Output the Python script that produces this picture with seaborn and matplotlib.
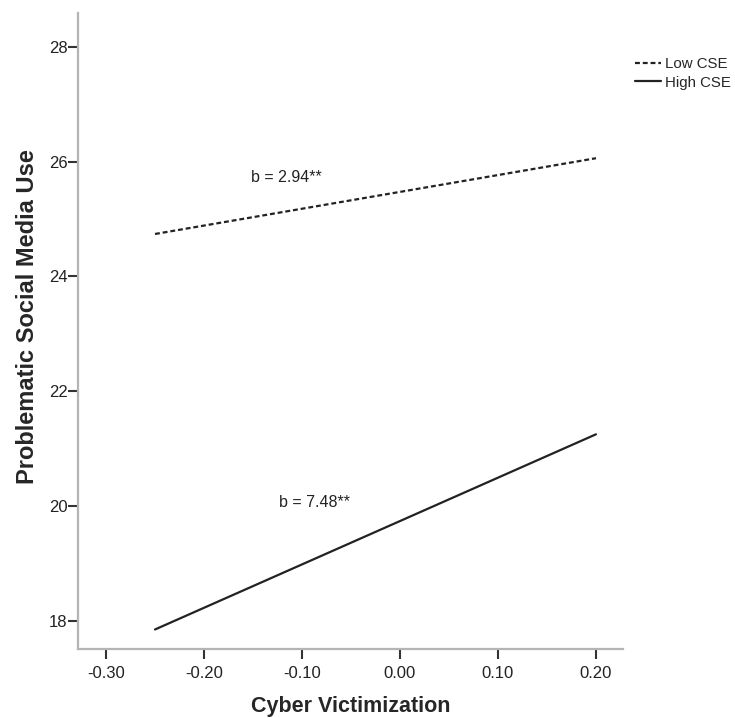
import matplotlib
matplotlib.use("Agg")
import matplotlib.pyplot as plt
import seaborn as sns
import pandas as pd

# Data
groups = ["Low CSE", "Low CSE", "High CSE", "High CSE"]
cyber_vict = [-0.25, 0.20, -0.25, 0.20]
psmu = [24.74, 26.06, 17.85, 21.25]
slope_labels = ["b = 2.94**", "b = 7.48**"]
label_x = [-0.116, -0.087]
label_y = [25.72, 20.06]
xticks = [-0.30, -0.20, -0.10, 0.00, 0.10, 0.20]
xtick_labels = ["-0.30", "-0.20", "-0.10", "0.00", "0.10", "0.20"]
yticks = [18, 20, 22, 24, 26, 28]

sns.set_style("white")
plt.rcParams["font.family"] = ["Liberation Sans", "DejaVu Sans"]

df = pd.DataFrame({"Group": groups, "Cyber Victimization": cyber_vict,
                   "Problematic Social Media Use": psmu})

fig = plt.figure(figsize=(7.35, 7.18), dpi=100)
ax = fig.add_axes([0.1061, 0.0961, 0.8476 - 0.1061, 0.9819 - 0.0961])

sns.lineplot(data=df, x="Cyber Victimization", y="Problematic Social Media Use",
             hue="Group", style="Group",
             palette={"Low CSE": "#222222", "High CSE": "#222222"},
             dashes={"Low CSE": (2.2, 1.3), "High CSE": ""},
             linewidth=1.6, ax=ax, legend=True)

ax.set_xlim(-0.3286, 0.2276)
ax.set_ylim(17.51, 28.59)
ax.set_xticks(xticks)
ax.set_xticklabels(xtick_labels)
ax.set_yticks(yticks)
ax.set_yticklabels([str(v) for v in yticks])

for t, xx, yy in zip(slope_labels, label_x, label_y):
    ax.text(xx, yy, t, ha="center", va="center", fontsize=11.5, color="#222222")

for s in ["top", "right"]:
    ax.spines[s].set_visible(False)
for s in ["left", "bottom"]:
    ax.spines[s].set_color("#b4b4b4")
    ax.spines[s].set_linewidth(1.6)

ax.tick_params(axis="x", which="major", direction="out", length=7, width=1.5,
               color="#333333", labelsize=12, labelcolor="#222222", pad=5, bottom=True)
ax.tick_params(axis="y", which="major", direction="out", length=7, width=1.5,
               color="#333333", labelsize=12, labelcolor="#222222", pad=0.5, left=True)

ax.set_xlabel("Cyber Victimization", fontsize=15.5, fontweight="bold", labelpad=11)
ax.set_ylabel("Problematic Social Media Use", fontsize=17, fontweight="bold", labelpad=9)
ax.yaxis.set_label_coords(-0.072, 0.522)

leg = ax.get_legend()
handles, labels = ax.get_legend_handles_labels()
leg.remove()
fig.legend(handles, labels, loc="upper left", bbox_to_anchor=(629 / 735, 1 - 51 / 718),
           frameon=False, fontsize=10.8, handlelength=1.7, handletextpad=0.3,
           labelspacing=0.3, borderaxespad=0)

fig.savefig("out.png", dpi=100)
